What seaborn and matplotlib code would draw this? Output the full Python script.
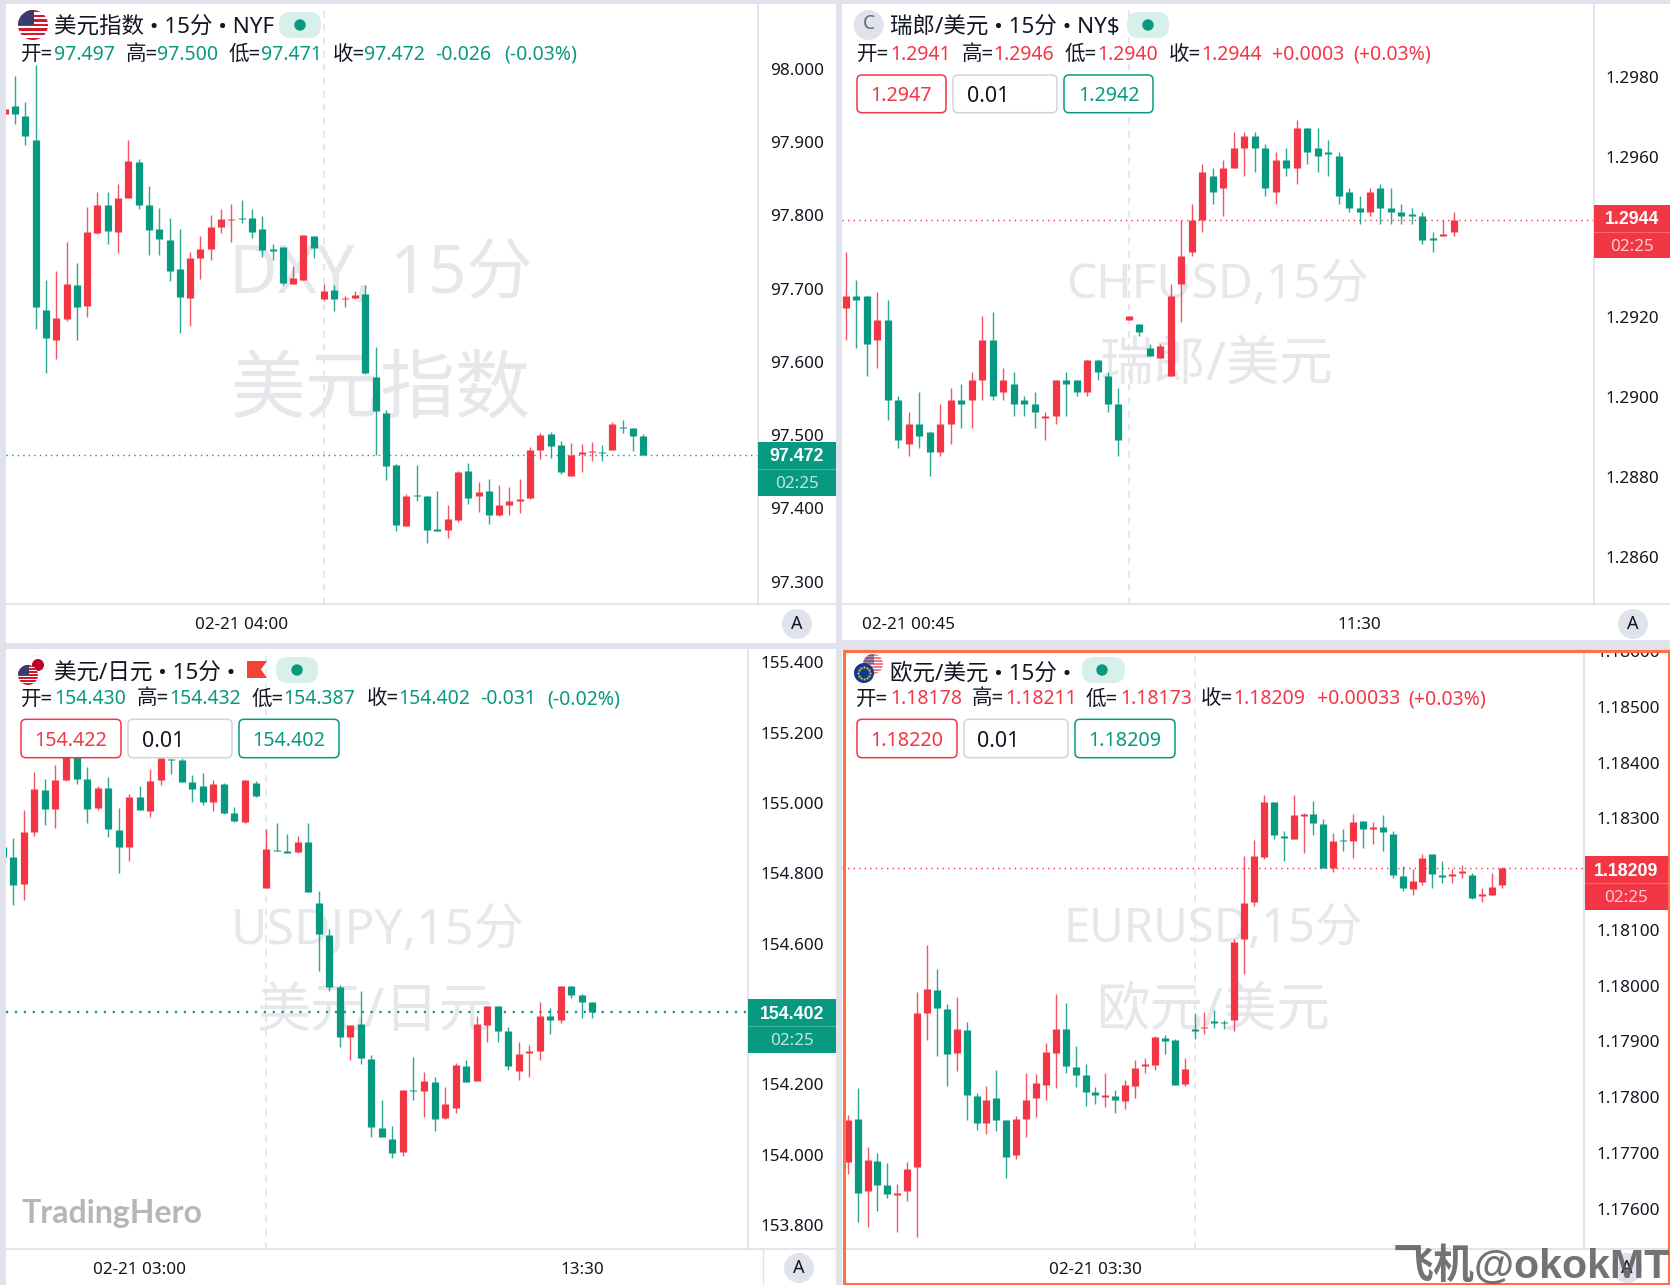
import numpy as np
import pandas as pd
import matplotlib
matplotlib.use('Agg')
import matplotlib.pyplot as plt
import matplotlib.patches as mpatches
import matplotlib.transforms as mtransforms
import seaborn as sns

RED = '#f23645'
GREEN = '#089981'
BG = '#e0e3eb'
MARK = '#e6e7ea'

# --- candle values ---
dxy_open = [97.937, 97.948, 97.934, 97.902, 97.669, 97.629, 97.657, 97.704, 97.675, 97.775, 97.812, 97.776, 97.822, 97.871, 97.813, 97.780, 97.765, 97.725, 97.686, 97.740, 97.752, 97.782, 97.792, 97.795, 97.795, 97.780, 97.752, 97.755, 97.705, 97.711, 97.770, 97.685, 97.697, 97.684, 97.686, 97.691, 97.578, 97.529, 97.458, 97.375, 97.417, 97.415, 97.370, 97.369, 97.383, 97.450, 97.415, 97.422, 97.390, 97.403, 97.409, 97.413, 97.478, 97.500, 97.485, 97.443, 97.473, 97.475, 97.476, 97.479, 97.510, 97.509, 97.497]
dxy_high = [97.944, 97.988, 97.953, 98.004, 97.711, 97.723, 97.762, 97.734, 97.810, 97.830, 97.830, 97.841, 97.901, 97.876, 97.839, 97.808, 97.795, 97.780, 97.748, 97.770, 97.799, 97.807, 97.814, 97.819, 97.807, 97.798, 97.759, 97.756, 97.729, 97.772, 97.771, 97.705, 97.703, 97.689, 97.695, 97.703, 97.619, 97.533, 97.459, 97.419, 97.458, 97.415, 97.423, 97.403, 97.450, 97.460, 97.435, 97.439, 97.430, 97.428, 97.439, 97.482, 97.501, 97.503, 97.491, 97.488, 97.486, 97.490, 97.485, 97.516, 97.520, 97.509, 97.500]
dxy_low = [97.937, 97.923, 97.895, 97.644, 97.584, 97.602, 97.654, 97.629, 97.660, 97.773, 97.759, 97.747, 97.822, 97.807, 97.744, 97.745, 97.709, 97.638, 97.648, 97.712, 97.738, 97.774, 97.762, 97.788, 97.767, 97.742, 97.737, 97.703, 97.705, 97.711, 97.740, 97.682, 97.668, 97.673, 97.684, 97.582, 97.472, 97.438, 97.368, 97.375, 97.409, 97.351, 97.368, 97.359, 97.380, 97.405, 97.394, 97.377, 97.389, 97.390, 97.392, 97.412, 97.466, 97.468, 97.445, 97.443, 97.449, 97.464, 97.463, 97.478, 97.501, 97.477, 97.471]
dxy_close = [97.944, 97.937, 97.907, 97.674, 97.631, 97.658, 97.705, 97.674, 97.776, 97.813, 97.777, 97.822, 97.873, 97.812, 97.779, 97.766, 97.723, 97.687, 97.740, 97.752, 97.782, 97.793, 97.793, 97.793, 97.776, 97.751, 97.750, 97.706, 97.713, 97.772, 97.754, 97.695, 97.685, 97.686, 97.690, 97.584, 97.531, 97.457, 97.376, 97.416, 97.415, 97.369, 97.368, 97.384, 97.448, 97.413, 97.421, 97.390, 97.403, 97.409, 97.412, 97.478, 97.499, 97.484, 97.448, 97.471, 97.475, 97.477, 97.474, 97.514, 97.508, 97.498, 97.472]

chf_open = [1.2922, 1.2925, 1.2925, 1.2914, 1.2919, 1.2899, 1.2888, 1.2893, 1.2891, 1.2886, 1.2893, 1.2899, 1.2899, 1.2904, 1.2914, 1.2901, 1.2903, 1.2899, 1.2898, 1.28945, 1.2895, 1.2904, 1.2904, 1.2901, 1.2909, 1.2905, 1.2898, 1.2919, 1.2918, 1.2912, 1.29095, 1.2905, 1.2928, 1.2936, 1.2944, 1.2955, 1.2952, 1.2957, 1.2962, 1.2965, 1.2962, 1.2951, 1.2959, 1.2957, 1.2967, 1.2962, 1.2961, 1.2960, 1.2951, 1.2947, 1.2946, 1.2952, 1.2947, 1.2946, 1.29455, 1.2945, 1.29395, 1.2940, 1.2941]
chf_high = [1.2936, 1.2929, 1.2925, 1.2926, 1.2924, 1.2900, 1.2896, 1.2901, 1.2891, 1.2898, 1.2902, 1.2903, 1.2906, 1.2920, 1.2921, 1.2907, 1.2906, 1.2900, 1.2901, 1.2896, 1.2904, 1.2906, 1.2904, 1.2909, 1.2909, 1.2906, 1.2902, 1.2920, 1.2918, 1.2913, 1.2913, 1.2928, 1.2944, 1.2948, 1.2958, 1.2957, 1.2959, 1.2966, 1.2966, 1.2966, 1.2963, 1.2961, 1.2962, 1.2969, 1.2967, 1.2967, 1.2964, 1.2961, 1.2952, 1.2950, 1.2952, 1.2953, 1.2952, 1.2948, 1.2947, 1.2946, 1.2941, 1.2944, 1.2946]
chf_low = [1.2914, 1.2912, 1.2905, 1.2907, 1.2894, 1.2887, 1.2885, 1.2887, 1.2880, 1.2885, 1.2888, 1.2892, 1.2892, 1.2899, 1.2899, 1.2899, 1.2895, 1.2895, 1.2892, 1.2889, 1.2893, 1.2895, 1.2900, 1.2900, 1.2904, 1.2896, 1.2885, 1.2919, 1.2915, 1.2910, 1.29095, 1.2905, 1.29185, 1.2935, 1.2941, 1.2948, 1.2945, 1.2957, 1.2955, 1.2956, 1.2950, 1.2948, 1.2955, 1.2953, 1.2958, 1.2956, 1.2955, 1.2948, 1.2946, 1.2943, 1.2945, 1.2943, 1.2943, 1.2943, 1.2943, 1.2938, 1.2936, 1.2940, 1.2940]
chf_close = [1.2925, 1.2924, 1.2913, 1.2919, 1.2899, 1.2889, 1.2893, 1.2890, 1.2886, 1.2893, 1.2899, 1.2898, 1.2904, 1.2914, 1.2900, 1.2904, 1.2898, 1.2898, 1.2896, 1.2895, 1.2904, 1.2903, 1.2901, 1.2909, 1.2906, 1.2898, 1.2889, 1.2920, 1.2916, 1.2910, 1.29125, 1.2925, 1.2935, 1.2944, 1.2956, 1.2951, 1.2957, 1.2962, 1.2965, 1.2962, 1.2952, 1.2959, 1.2957, 1.2967, 1.2961, 1.2960, 1.29605, 1.2950, 1.2947, 1.2946, 1.2951, 1.2947, 1.2946, 1.2945, 1.2945, 1.2939, 1.2939, 1.29405, 1.2944]

jpy_open = [154.871, 154.845, 154.766, 154.914, 155.034, 154.981, 155.062, 155.138, 155.064, 154.982, 155.039, 154.921, 154.873, 155.014, 154.974, 155.062, 155.122, 155.118, 155.058, 155.045, 154.999, 155.051, 154.968, 154.943, 155.053, 154.756, 154.864, 154.860, 154.857, 154.885, 154.712, 154.623, 154.474, 154.333, 154.368, 154.269, 154.072, 154.042, 154.005, 154.181, 154.179, 154.205, 154.102, 154.131, 154.249, 154.208, 154.367, 154.420, 154.348, 154.235, 154.287, 154.293, 154.391, 154.380, 154.476, 154.452, 154.430]
jpy_high = [154.880, 154.899, 154.978, 155.085, 155.064, 155.104, 155.160, 155.160, 155.099, 155.045, 155.071, 154.982, 155.023, 155.046, 155.093, 155.134, 155.122, 155.124, 155.077, 155.083, 155.063, 155.055, 154.985, 155.063, 155.059, 154.922, 154.940, 154.909, 154.903, 154.940, 154.746, 154.638, 154.481, 154.367, 154.463, 154.280, 154.152, 154.080, 154.180, 154.274, 154.232, 154.217, 154.189, 154.257, 154.265, 154.392, 154.420, 154.420, 154.361, 154.318, 154.310, 154.430, 154.415, 154.478, 154.478, 154.454, 154.432]
jpy_low = [154.840, 154.707, 154.721, 154.903, 154.935, 154.925, 155.060, 155.050, 154.941, 154.978, 154.900, 154.799, 154.833, 154.976, 154.956, 155.049, 155.079, 155.058, 155.000, 154.991, 154.973, 154.967, 154.944, 154.941, 155.015, 154.756, 154.861, 154.856, 154.854, 154.743, 154.519, 154.464, 154.304, 154.266, 154.254, 154.048, 154.048, 153.989, 153.993, 154.154, 154.105, 154.064, 154.098, 154.117, 154.203, 154.208, 154.318, 154.318, 154.238, 154.209, 154.218, 154.266, 154.340, 154.372, 154.443, 154.385, 154.387]
jpy_close = [154.845, 154.764, 154.916, 155.036, 154.981, 155.062, 155.148, 155.065, 154.981, 155.039, 154.922, 154.871, 155.015, 154.976, 155.061, 155.124, 155.118, 155.058, 155.037, 155.001, 155.051, 154.969, 154.946, 155.062, 155.018, 154.867, 154.861, 154.856, 154.886, 154.745, 154.626, 154.474, 154.333, 154.367, 154.272, 154.077, 154.048, 154.003, 154.180, 154.177, 154.206, 154.100, 154.141, 154.251, 154.204, 154.368, 154.420, 154.349, 154.249, 154.283, 154.291, 154.392, 154.380, 154.476, 154.451, 154.432, 154.402]

eur_open = [1.17682, 1.17760, 1.17630, 1.17683, 1.17640, 1.17623, 1.17630, 1.17673, 1.17950, 1.17990, 1.17956, 1.17878, 1.17918, 1.17800, 1.17752, 1.17796, 1.17758, 1.17694, 1.17760, 1.17796, 1.17820, 1.17878, 1.17921, 1.17853, 1.17838, 1.17808, 1.17798, 1.17800, 1.17792, 1.17818, 1.17854, 1.17856, 1.17905, 1.17900, 1.17822, 1.17920, 1.17922, 1.17935, 1.17933, 1.17937, 1.18082, 1.18148, 1.18229, 1.18327, 1.18267, 1.18261, 1.18303, 1.18306, 1.18288, 1.18209, 1.18260, 1.18258, 1.18293, 1.18279, 1.18283, 1.18270, 1.18195, 1.18172, 1.18184, 1.18234, 1.18197, 1.18195, 1.18200, 1.18197, 1.18159, 1.18161, 1.18178]
eur_high = [1.17767, 1.17815, 1.17709, 1.17698, 1.17680, 1.17643, 1.17682, 1.17987, 1.18071, 1.18029, 1.17965, 1.17978, 1.17933, 1.17805, 1.17818, 1.17847, 1.17758, 1.17764, 1.17841, 1.17839, 1.17896, 1.17983, 1.17968, 1.17890, 1.17857, 1.17817, 1.17841, 1.17811, 1.17829, 1.17865, 1.17869, 1.17908, 1.17910, 1.17902, 1.17868, 1.17949, 1.17951, 1.17954, 1.17936, 1.18082, 1.18231, 1.18260, 1.18341, 1.18327, 1.18275, 1.18340, 1.18307, 1.18329, 1.18298, 1.18272, 1.18280, 1.18306, 1.18293, 1.18292, 1.18304, 1.18276, 1.18213, 1.18208, 1.18235, 1.18234, 1.18222, 1.18208, 1.18215, 1.18200, 1.18174, 1.18200, 1.18211]
eur_low = [1.17661, 1.17574, 1.17565, 1.17594, 1.17617, 1.17556, 1.17612, 1.17548, 1.17901, 1.17872, 1.17818, 1.17845, 1.17757, 1.17739, 1.17733, 1.17737, 1.17653, 1.17687, 1.17726, 1.17763, 1.17793, 1.17814, 1.17842, 1.17817, 1.17782, 1.17786, 1.17781, 1.17770, 1.17777, 1.17796, 1.17842, 1.17847, 1.17875, 1.17821, 1.17818, 1.17902, 1.17912, 1.17922, 1.17920, 1.17917, 1.18019, 1.18142, 1.18226, 1.18261, 1.18222, 1.18261, 1.18237, 1.18268, 1.18209, 1.18202, 1.18239, 1.18228, 1.18245, 1.18252, 1.18240, 1.18192, 1.18168, 1.18160, 1.18178, 1.18174, 1.18182, 1.18182, 1.18191, 1.18153, 1.18148, 1.18160, 1.18173]
eur_close = [1.17758, 1.17627, 1.17686, 1.17641, 1.17624, 1.17627, 1.17670, 1.17950, 1.17992, 1.17959, 1.17875, 1.17920, 1.17803, 1.17752, 1.17794, 1.17757, 1.17691, 1.17760, 1.17794, 1.17823, 1.17880, 1.17920, 1.17854, 1.17838, 1.17808, 1.17803, 1.17802, 1.17793, 1.17821, 1.17851, 1.17857, 1.17906, 1.17899, 1.17821, 1.17848, 1.17917, 1.17925, 1.17931, 1.17931, 1.18077, 1.18146, 1.18231, 1.18327, 1.18269, 1.18263, 1.18305, 1.18306, 1.18290, 1.18210, 1.18258, 1.18257, 1.18292, 1.18279, 1.18282, 1.18273, 1.18197, 1.18173, 1.18186, 1.18228, 1.18198, 1.18194, 1.18199, 1.18204, 1.18156, 1.18162, 1.18175, 1.18209]

dxy_ticks = [97.3, 97.4, 97.5, 97.6, 97.7, 97.8, 97.9, 98.0]
chf_ticks = [1.286, 1.288, 1.290, 1.292, 1.296, 1.298]
jpy_ticks = [153.8, 154.0, 154.2, 154.6, 154.8, 155.0, 155.2, 155.4]
eur_ticks = [1.176, 1.177, 1.178, 1.179, 1.180, 1.181, 1.183, 1.184, 1.185, 1.186]

W, H = 1670, 1285

sns.set_theme(style='white')
plt.rcParams['font.family'] = ['Noto Sans', 'Noto Sans CJK SC', 'DejaVu Sans']
plt.rcParams['axes.unicode_minus'] = False

BOLD_FONT = ['Liberation Sans', 'Noto Sans CJK SC']

fig = plt.figure(figsize=(W / 100, H / 100), dpi=100, facecolor=BG)


def full_layer(z):
    ax = fig.add_axes([0, 0, 1, 1], zorder=z)
    ax.set_xlim(0, W)
    ax.set_ylim(H, 0)
    ax.axis('off')
    ax.patch.set_alpha(0)
    return ax


base = full_layer(0)
ui = full_layer(10)


def candles(ax, o, h, l, c):
    df = pd.DataFrame({'open': o, 'high': h, 'low': l, 'close': c})
    df['bar'] = np.arange(1, len(df) + 1)
    df['dir'] = np.where(df['close'] >= df['open'], 'up', 'down')
    colors = {'up': RED, 'down': GREEN}
    wicks = df.melt(id_vars=['bar', 'dir'], value_vars=['high', 'low'], value_name='price')
    bodies = df.melt(id_vars=['bar', 'dir'], value_vars=['open', 'close'], value_name='price')
    sns.lineplot(data=wicks, x='bar', y='price', hue='dir', units='bar', estimator=None, palette=colors,
                 linewidth=1.0, alpha=0.85, legend=False, ax=ax, solid_capstyle='butt', zorder=3)
    sns.lineplot(data=bodies, x='bar', y='price', hue='dir', units='bar', estimator=None, palette=colors,
                 linewidth=5.2, legend=False, ax=ax, solid_capstyle='butt', zorder=3)


def panel(o, h, l, c, ticks, fmt, box, divider, time_y, first, step, ylim, session_bar, time_bars, time_labels, dot_lw=1.0):
    left, top, right, bottom = box
    base.add_patch(mpatches.Rectangle((left, top), right - left, bottom - top, color='white', lw=0))
    base.plot([left, right], [time_y, time_y], color=BG, lw=1.3, zorder=4)
    ax = fig.add_axes([left / W, 1 - time_y / H, (divider - left) / W, (time_y - top) / H], zorder=5)
    ax.patch.set_alpha(0)
    candles(ax, o, h, l, c)
    ax.set_xlim((left - first) / step + 1, (divider - first) / step + 1)
    ax.set_ylim(*ylim)
    ax.yaxis.tick_right()
    ax.set_yticks(ticks)
    ax.set_yticklabels([fmt % t for t in ticks], fontsize=12.3, color='#131722')
    ax.set_xticks(time_bars)
    ax.set_xticklabels(time_labels, fontsize=12.3, color='#131722')
    ax.tick_params(axis='y', length=0, pad=8.5)
    ax.tick_params(axis='x', length=0, pad=9.5)
    # price labels sit one pixel lower than matplotlib centres them
    shift = mtransforms.ScaledTranslation(0, -1 / 100, fig.dpi_scale_trans)
    for label in ax.get_yticklabels():
        label.set_transform(label.get_transform() + shift)
    ax.set_xlabel('')
    ax.set_ylabel('')
    for name in ['left', 'top', 'bottom']:
        ax.spines[name].set_visible(False)
    ax.spines['right'].set_color(BG)
    ax.spines['right'].set_linewidth(1.3)
    ax.axvline(session_bar, color=BG, lw=1.2, dashes=(4, 4), zorder=1)
    color = RED if c[-1] >= o[-1] else GREEN
    ax.axhline(c[-1], color=color, lw=dot_lw, dashes=(1, 3), zorder=2)
    return ax


dxy_ax = panel(dxy_open, dxy_high, dxy_low, dxy_close, dxy_ticks, '%.3f', (6, 4, 835.5, 643), 758, 604,
               4.7, 10.3, (97.2683, 98.0869), 32, [24], ['02-21 04:00'])
chf_ax = panel(chf_open, chf_high, chf_low, chf_close, chf_ticks, '%.4f', (842, 4, 1670, 643), 1593.5, 604,
               846, 10.48, (1.28479, 1.29979), 28, [7, 50], ['02-21 00:45', '11:30'])
jpy_ax = panel(jpy_open, jpy_high, jpy_low, jpy_close, jpy_ticks, '%.3f', (6, 649, 835.5, 1285), 748.3, 1249,
               2.8, 10.53, (153.729, 155.435), 26, [14, 56], ['02-21 03:00', '13:30'], dot_lw=1.6)
eur_ax = panel(eur_open, eur_high, eur_low, eur_close, eur_ticks, '%.5f', (842, 649, 1670, 1285), 1584.5, 1249,
               847.7, 9.91, (1.17526, 1.18602), 36, [26], ['02-21 03:30'])
base.plot([763, 763], [1249, 1285], color=BG, lw=1.0, zorder=4)

# big grey watermarks behind the candles
marks = [
    (381, 275, 'DXY, 15分', 48), (381, 392, '美元指数', 54),
    (1217, 286, 'CHFUSD,15分', 34.5), (1217, 366, '瑞郎/美元', 38.5),
    (377, 930, 'USDJPY,15分', 36), (375, 1012, '美元/日元', 39),
    (1213, 930, 'EURUSD,15分', 34), (1213, 1012, '欧元/美元', 38.5),
]
for x, y, s, size in marks:
    base.text(x, y, s, fontsize=size, color=MARK, ha='center', va='center')


def price_box(x0, x1, y0, y1, price, color):
    ui.add_patch(mpatches.Rectangle((x0, y0), x1 - x0, y1 - y0, color=color, lw=0))
    mid = (y0 + y1) / 2
    ui.plot([x0, x1], [mid, mid], color='white', alpha=0.25, lw=0.8)
    xc = (x0 + x1) / 2
    ui.text(xc, y0 + 15, price, color='white', fontsize=12.8, fontweight='bold', family=BOLD_FONT, ha='center', va='center')
    ui.text(xc, y0 + 42, '02:25', color='white', alpha=0.75, fontsize=12.3, ha='center', va='center')


price_box(758, 835.5, 441.7, 495.7, '97.472', GREEN)
price_box(1593.5, 1670, 205, 258, '1.2944', RED)
price_box(748.3, 835.5, 999.3, 1053, '154.402', GREEN)
price_box(1584.5, 1668, 856, 910, '1.18209', RED)


def a_button(x, y):
    ui.add_patch(mpatches.Circle((x, y), 15, color=BG, lw=0))
    ui.text(x, y, 'A', fontsize=13, color='#131722', ha='center', va='center')


a_button(797, 624)
a_button(1633, 624)
a_button(799, 1268)


def pill(x0, x1, y0, y1, dot):
    ui.add_patch(mpatches.FancyBboxPatch((x0 + 12, y0 + 12), x1 - x0 - 24, y1 - y0 - 24,
                                         boxstyle='round,pad=12', color='#d8f0ea', lw=0))
    ui.add_patch(mpatches.Circle((dot, (y0 + y1) / 2), 5.7, color=GREEN, lw=0))


pill(279, 321, 12, 38, 300)
pill(1127, 1169, 12, 38, 1148)
pill(276, 318, 657, 683, 297)
pill(1082, 1125, 657, 683, 1102)


def us_flag(x, y, r, alpha=1.0):
    clip = mpatches.Circle((x, y), r, transform=ui.transData)
    for i in range(13):
        yy = y - r + i * 2 * r / 13
        p = mpatches.Rectangle((x - r, yy), 2 * r, 2 * r / 13, color='#d5182c' if i % 2 == 0 else 'white', lw=0, alpha=alpha)
        ui.add_patch(p)
        p.set_clip_path(clip)
    p = mpatches.Rectangle((x - r, y - r), r * 1.05, r, color='#3c3b6e', lw=0, alpha=alpha)
    ui.add_patch(p)
    p.set_clip_path(clip)


def eu_flag(x, y, r):
    ui.add_patch(mpatches.Circle((x, y), r, color='#0b3a9c', lw=0))
    angles = np.deg2rad(np.arange(0, 360, 30))
    ui.scatter(x + 0.62 * r * np.cos(angles), y + 0.62 * r * np.sin(angles), s=2.5, color='#f5c518', lw=0, zorder=5)


def title(x, y, s):
    ui.text(x, y + 3, s, fontsize=16.2, color=BLACK, ha='left', va='center')


def row(y, items):
    for x, s, color in items:
        size = 14.8 if color == BLACK else 14
        ui.text(x, y + 1.5, s, fontsize=size, color=color, ha='left', va='center')


BLACK = '#131722'

# top left header
us_flag(33, 25, 15)
title(54, 25, '美元指数 • 15分 • NYF')
row(53, [(21, '开=', BLACK), (54, '97.497', GREEN), (125.7, '高=', BLACK), (157, '97.500', GREEN),
         (229, '低=', BLACK), (260.7, '97.471', GREEN), (333, '收=', BLACK), (364, '97.472', GREEN),
         (435.6, '-0.026', GREEN), (504, '(-0.03%)', GREEN)])

# top right header
ui.add_patch(mpatches.Circle((868.7, 25), 15, color=BG, lw=0))
ui.text(868.7, 24, 'C', fontsize=14, color='#6a6d78', ha='center', va='center')
title(890, 25, '瑞郎/美元 • 15分 • NY$')
row(53, [(856.7, '开=', BLACK), (890, '1.2941', RED), (961.7, '高=', BLACK), (993, '1.2946', RED),
         (1065, '低=', BLACK), (1097, '1.2940', RED), (1169, '收=', BLACK), (1201.7, '1.2944', RED),
         (1271.6, '+0.0003', RED), (1353.6, '(+0.03%)', RED)])

# bottom left header
ui.add_patch(mpatches.Circle((38, 665), 10, facecolor='white', edgecolor='#eeeeee', lw=0.6))
ui.add_patch(mpatches.Circle((38, 665), 6, color='#bc002d', lw=0))
us_flag(28, 675, 10)
title(54, 671, '美元/日元 • 15分 •')
ui.add_patch(mpatches.Polygon([(247, 661), (267, 661), (261, 669.5), (267, 678), (247, 678)], color='#f44336', lw=0))
row(698, [(21, '开=', BLACK), (54, '154.430', GREEN), (136.7, '高=', BLACK), (169, '154.432', GREEN),
          (251.7, '低=', BLACK), (283, '154.387', GREEN), (366.7, '收=', BLACK), (398, '154.402', GREEN),
          (480, '-0.031', GREEN), (547, '(-0.02%)', GREEN)])

# bottom right header
us_flag(873, 664, 10, alpha=0.55)
eu_flag(864, 673, 10)
title(890, 671, '欧元/美元 • 15分 •')
row(698, [(856, '开=', BLACK), (890, '1.18178', RED), (972, '高=', BLACK), (1005.4, '1.18211', RED),
          (1086, '低=', BLACK), (1120, '1.18173', RED), (1201, '收=', BLACK), (1233, '1.18209', RED),
          (1316.6, '+0.00033', RED), (1408, '(+0.03%)', RED)])


def button(x0, x1, y0, y1, s, edge, color, text_x=None):
    ui.add_patch(mpatches.FancyBboxPatch((x0 + 5, y0 + 5), x1 - x0 - 10, y1 - y0 - 10, boxstyle='round,pad=5',
                                         facecolor='white', edgecolor=edge, lw=1.1))
    if text_x is None:
        ui.text((x0 + x1) / 2, (y0 + y1) / 2 + 2, s, fontsize=14.2, color=color, ha='center', va='center')
    else:
        ui.text(text_x, (y0 + y1) / 2 + 3, s, fontsize=15.5, color=color, ha='left', va='center')


def buttons(y0, y1, sell, buy, xs, qty_x):
    button(xs[0], xs[1], y0, y1, sell, RED, RED)
    button(xs[2], xs[3], y0, y1, '0.01', '#d1d4dc', BLACK, qty_x)
    button(xs[4], xs[5], y0, y1, buy, GREEN, GREEN)


buttons(75, 112.7, '1.2947', '1.2942', (857, 946, 953, 1057, 1064, 1153), 966.7)
buttons(719.3, 757.7, '154.422', '154.402', (21, 121, 128, 232, 239, 339), 141.7)
buttons(719.3, 757.7, '1.18220', '1.18209', (857, 957, 964, 1068, 1075, 1175), 977)

# clip the top of the bottom right price scale, then its active frame
ui.add_patch(mpatches.Rectangle((842, 640), 828, 9.5, color=BG, lw=0))
a_button(1627, 1268)
ui.add_patch(mpatches.Rectangle((843.5, 650.5), 825, 633.5, fill=False, edgecolor='#ff7043', lw=2.2))

ui.text(21, 1214, 'TradingHero', fontsize=23, fontweight='bold', family=['Lato', 'Liberation Sans'], color='#b6b6b6', ha='left', va='center')
ui.text(1393, 1266, '飞机@okokMT', fontsize=29.5, fontweight='bold', family=BOLD_FONT, color='#5a5a5a', alpha=0.85,
        ha='left', va='center', clip_on=True)

fig.savefig('out.png', dpi=100, facecolor=BG)
